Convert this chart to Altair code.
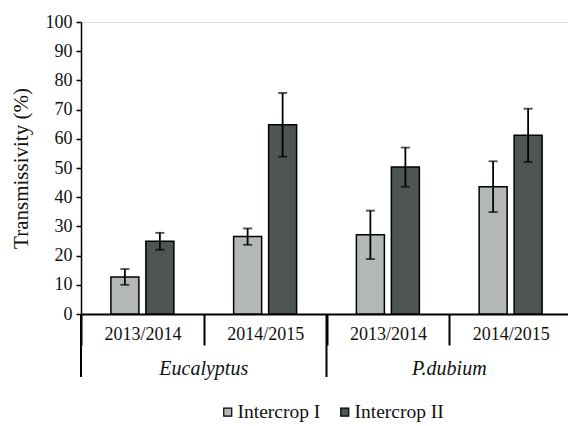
import altair as alt
import pandas as pd

# Transmissivity (%) by species, season and intercrop, with error bars
species = ["Eucalyptus", "Eucalyptus", "P.dubium", "P.dubium"]
seasons = ["2013/2014", "2014/2015", "2013/2014", "2014/2015"]
intercrops = ["Intercrop I", "Intercrop II"]
mean_i = [12.7, 26.5, 27.1, 43.6]
err_i = [2.7, 2.8, 8.3, 8.7]
mean_ii = [24.9, 64.8, 50.3, 61.2]
err_ii = [2.9, 10.9, 6.7, 9.1]
y_ticks = list(range(0, 101, 10))
colors = ["#b3b7b7", "#4f5454"]

slots = [f"{s}|{y}" for s, y in zip(species, seasons)]

rows = []
for slot, sp, m, e in zip(slots, species, mean_i, err_i):
    rows.append({"slot": slot, "species": sp, "intercrop": intercrops[0],
                 "value": m, "lo": m - e, "hi": m + e})
for slot, sp, m, e in zip(slots, species, mean_ii, err_ii):
    rows.append({"slot": slot, "species": sp, "intercrop": intercrops[1],
                 "value": m, "lo": m - e, "hi": m + e})
df = pd.DataFrame(rows)

# first season slot of each species group: group label sits at its right edge,
# long separator at its left edge
first_slots = [slots[i] for i in range(len(slots)) if i == 0 or species[i] != species[i - 1]]
groups = pd.DataFrame({"slot": first_slots,
                       "species": [species[slots.index(s)] for s in first_slots]})

FONT = "Liberation Serif"
W, H = 487, 292
Y_TITLE = "Transmissivity (%)"

x_scale = alt.Scale(domain=slots, range=[0, 491], paddingInner=0, paddingOuter=0)
x_off_scale = alt.Scale(domain=intercrops, paddingInner=0.2, paddingOuter=0.854)
y_scale = alt.Scale(domain=[0, 100], nice=False)

x_axis = alt.Axis(
    labelExpr="split(datum.label, '|')[1]", labelAngle=0,
    labelFont=FONT, labelFontSize=18, labelColor="#111",
    labelPadding=-20, tickBand="extent", tickSize=31,
    tickColor="black", tickWidth=2, domainColor="black", domainWidth=2,
    grid=False,
)
y_axis = alt.Axis(
    values=y_ticks, grid=False, domainColor="black", domainWidth=1.5,
    tickColor="black", tickWidth=1.5, tickSize=5, labelOverlap=False,
    labelFont=FONT, labelFontSize=18, labelColor="#111", labelPadding=4,
    titleFont=FONT, titleFontSize=21, titleFontWeight="normal",
    titleColor="#111", titlePadding=14,
)


def x_enc(**kw):
    return alt.X("slot:N", scale=x_scale, sort=slots, title=None, axis=x_axis, **kw)


def y_enc(field):
    return alt.Y(field, scale=y_scale, title=Y_TITLE, axis=y_axis)


xo_enc = alt.XOffset("intercrop:N", scale=x_off_scale, sort=intercrops)

base = alt.Chart(df)

bars = base.mark_bar(stroke="black", strokeWidth=1.5).encode(
    x=x_enc(),
    xOffset=xo_enc,
    y=y_enc("value:Q"),
    fill=alt.Fill(
        "intercrop:N", scale=alt.Scale(domain=intercrops, range=colors),
        legend=alt.Legend(
            title=None, orient="none", direction="horizontal",
            legendX=133, legendY=380, symbolType="square", symbolSize=64,
            symbolStrokeColor="black", symbolStrokeWidth=1.2,
            labelFont=FONT, labelFontSize=19.5, labelColor="#111",
            columnPadding=10, symbolOffset=4, labelOffset=0,
        ),
    ),
)

whisker = base.mark_rule(color="black", strokeWidth=1.8).encode(
    x=x_enc(),
    xOffset=xo_enc,
    y=y_enc("lo:Q"),
    y2="hi:Q",
)
cap_hi = base.mark_tick(color="black", thickness=1.8, size=9).encode(
    x=x_enc(),
    xOffset=xo_enc,
    y=y_enc("hi:Q"),
)
cap_lo = base.mark_tick(color="black", thickness=1.8, size=9).encode(
    x=x_enc(),
    xOffset=xo_enc,
    y=y_enc("lo:Q"),
)

separators = alt.Chart(groups).mark_rule(color="black", strokeWidth=2).encode(
    x=x_enc(bandPosition=0),
    y=alt.value(H),
    y2=alt.value(H + 63),
)

group_labels = alt.Chart(groups).mark_text(
    font=FONT, fontSize=20, fontStyle="italic", color="#111", baseline="middle",
).encode(
    x=x_enc(bandPosition=1),
    y=alt.value(H + 55),
    text="species:N",
)

chart = alt.layer(bars, whisker, cap_hi, cap_lo, separators, group_labels).properties(
    width=W, height=H,
    autosize=alt.AutoSizeParams(type="none"),
    padding={"left": 81, "top": 22, "right": 0, "bottom": 112},
).configure_view(stroke=None).configure(background="white")

chart.save("out.html", embed_options={"renderer": "svg", "actions": False})
